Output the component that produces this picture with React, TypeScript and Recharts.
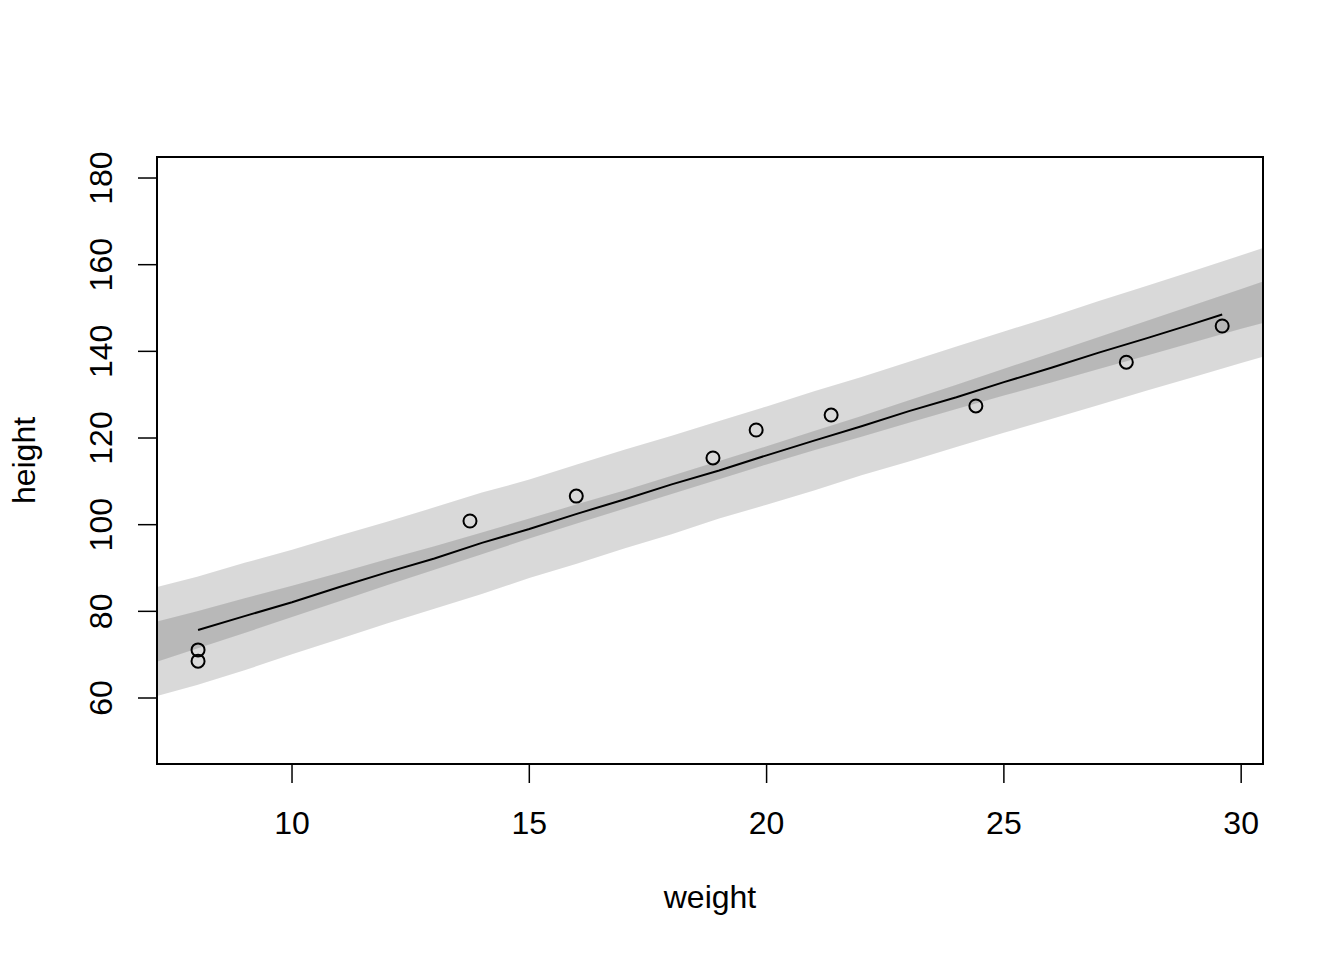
import {
  ComposedChart,
  Area,
  Line,
  Scatter,
  XAxis,
  YAxis,
  ReferenceArea,
} from "recharts";

// simulated-height bands, read off at whole weights
const bandWeights = [7, 8, 9, 10, 11, 12, 13, 14, 15, 16, 17, 18, 19, 20, 21, 22, 23, 24, 25, 26, 27, 28, 29, 30, 31];
const piLow = [60.0, 63.0, 66.4, 70.1, 73.6, 77.2, 80.6, 84.0, 87.7, 91.0, 94.5, 97.8, 101.4, 104.6, 107.9, 111.4, 114.6, 117.9, 121.2, 124.4, 127.6, 130.9, 134.1, 137.3, 140.4];
const piHigh = [85.2, 88.0, 91.2, 94.2, 97.5, 100.7, 104.0, 107.4, 110.4, 113.9, 117.3, 120.5, 123.9, 127.3, 130.8, 134.1, 137.6, 141.1, 144.6, 148.0, 151.6, 155.1, 158.6, 162.2, 165.8];
const ciLow = [67.8, 71.4, 75.0, 78.7, 82.3, 86.0, 89.6, 93.2, 96.8, 100.3, 103.7, 107.1, 110.5, 113.9, 117.2, 120.3, 123.5, 126.7, 129.8, 132.8, 135.9, 139.0, 142.1, 145.2, 148.1];
const ciHigh = [77.2, 80.0, 83.0, 85.9, 88.9, 92.0, 95.0, 98.2, 101.4, 104.7, 107.9, 111.3, 114.7, 118.1, 121.6, 125.1, 128.7, 132.3, 136.0, 139.6, 143.3, 147.0, 150.7, 154.4, 158.1];

// mean height line
const muWeights = [8.02, 9, 10, 11, 12, 13, 14, 15, 16, 17, 18, 19, 20, 21, 22, 23, 24, 25, 26, 27, 28, 29, 29.6];
const muHeights = [75.7, 78.9, 82.1, 85.6, 89.0, 92.2, 95.8, 99.0, 102.5, 105.8, 109.3, 112.5, 116.0, 119.4, 122.7, 126.2, 129.4, 132.9, 136.2, 139.7, 143.0, 146.4, 148.5];

// observed kids
const obsWeight = [8.02, 8.02, 13.75, 15.99, 18.87, 19.78, 21.36, 24.41, 27.58, 29.6];
const obsHeight = [71.1, 68.5, 100.85, 106.6, 115.4, 121.85, 125.3, 127.4, 137.5, 145.85];

const xTicks = [10, 15, 20, 25, 30];
const yTicks = [60, 80, 100, 120, 140, 160, 180];
const xDomain = [7.155, 30.46];
const yDomain = [44.77, 184.85];

const bandData = bandWeights.map((w, i) => ({
  w,
  pi: [piLow[i], piHigh[i]],
  ci: [ciLow[i], ciHigh[i]],
}));
const muData = muWeights.map((w, i) => ({ w, mu: muHeights[i] }));
const obsData = obsWeight.map((w, i) => ({ w, h: obsHeight[i] }));

const FONT = "'Liberation Sans', Arial, sans-serif";
const FS = 32;

const XTick = (p: any) => (
  <text x={p.x} y={p.y + 51} textAnchor="middle" fontFamily={FONT} fontSize={FS} fill="#000">
    {p.payload.value}
  </text>
);

const YTick = (p: any) => {
  const x = p.x - 26;
  return (
    <text
      x={x}
      y={p.y}
      transform={`rotate(-90, ${x}, ${p.y})`}
      textAnchor="middle"
      fontFamily={FONT}
      fontSize={FS}
      fill="#000"
    >
      {p.payload.value}
    </text>
  );
};

const ring = (p: any) => (
  <circle cx={p.cx} cy={p.cy} r={6.5} fill="none" stroke="#000" strokeWidth={2} />
);

export default function App() {
  return (
    <div style={{ position: "absolute", left: 0, top: 0, width: 1344, height: 960, background: "#fff" }}>
      <ComposedChart
        width={1344}
        height={960}
        data={bandData}
        margin={{ top: 157, right: 81, bottom: 0, left: 0 }}
      >
        <XAxis
          dataKey="w"
          type="number"
          domain={xDomain}
          allowDataOverflow
          ticks={xTicks}
          height={196}
          tickSize={19}
          tickMargin={0}
          axisLine={false}
          tickLine={{ stroke: "#000", strokeWidth: 1.5 }}
          tick={XTick}
          label={{
            content: (l: any) => (
              <text
                x={l.viewBox.x + l.viewBox.width / 2}
                y={l.viewBox.y + 144}
                textAnchor="middle"
                fontFamily={FONT}
                fontSize={FS}
                fill="#000"
              >
                weight
              </text>
            ),
          }}
        />
        <YAxis
          type="number"
          domain={yDomain}
          allowDataOverflow
          ticks={yTicks}
          width={157}
          tickSize={19}
          tickMargin={0}
          axisLine={false}
          tickLine={{ stroke: "#000", strokeWidth: 1.5 }}
          tick={YTick}
          label={{
            content: (l: any) => {
              const x = l.viewBox.x + l.viewBox.width - 122;
              const y = l.viewBox.y + l.viewBox.height / 2;
              return (
                <text
                  x={x}
                  y={y}
                  transform={`rotate(-90, ${x}, ${y})`}
                  textAnchor="middle"
                  fontFamily={FONT}
                  fontSize={FS}
                  fill="#000"
                >
                  height
                </text>
              );
            },
          }}
        />
        <Area
          dataKey="pi"
          type="linear"
          stroke="none"
          fill="#000"
          fillOpacity={0.15}
          isAnimationActive={false}
        />
        <Area
          dataKey="ci"
          type="linear"
          stroke="none"
          fill="#000"
          fillOpacity={0.15}
          isAnimationActive={false}
        />
        <Line
          data={muData}
          dataKey="mu"
          type="linear"
          stroke="#000"
          strokeWidth={2}
          dot={false}
          isAnimationActive={false}
        />
        <Scatter data={obsData} dataKey="h" shape={ring} isAnimationActive={false} />
        {/* plot frame */}
        <ReferenceArea
          x1={xDomain[0]}
          x2={xDomain[1]}
          y1={yDomain[0]}
          y2={yDomain[1]}
          fill="none"
          stroke="#000"
          strokeWidth={2}
          ifOverflow="visible"
        />
      </ComposedChart>
    </div>
  );
}
